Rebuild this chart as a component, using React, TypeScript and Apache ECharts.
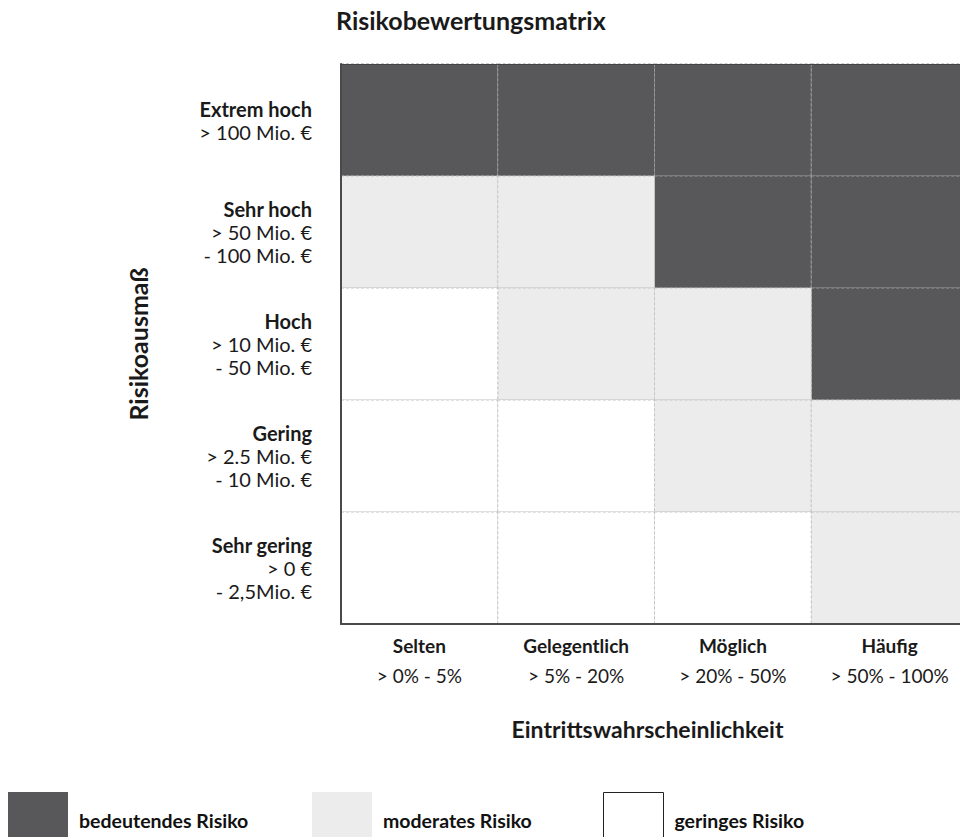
import React, { useEffect, useRef } from "react";
import * as echarts from "echarts";

const chartTitle = "Risikobewertungsmatrix";
const xAxisTitle = "Eintrittswahrscheinlichkeit";
const yAxisTitle = "Risikoausmaß";

const probCategories = ["Selten", "Gelegentlich", "Möglich", "Häufig"];
const probRanges = ["> 0% - 5%", "> 5% - 20%", "> 20% - 50%", "> 50% - 100%"];

// top to bottom
const impactCategories = ["Extrem hoch", "Sehr hoch", "Hoch", "Gering", "Sehr gering"];
const impactRanges = [
  ["> 100 Mio. €"],
  ["> 50 Mio. €", "- 100 Mio. €"],
  ["> 10 Mio. €", "- 50 Mio. €"],
  ["> 2.5 Mio. €", "- 10 Mio. €"],
  ["> 0 €", "- 2,5Mio. €"],
];

// rows top to bottom, columns left to right; 3 = bedeutend, 2 = moderat, 1 = gering
const riskMatrix = [
  [3, 3, 3, 3],
  [2, 2, 3, 3],
  [1, 2, 2, 3],
  [1, 1, 2, 2],
  [1, 1, 1, 2],
];

const riskLevelNames = ["bedeutendes Risiko", "moderates Risiko", "geringes Risiko"];
const riskLevelValues = [3, 2, 1];
const riskLevelColors = ["#58585a", "#ebeceb", "#ffffff"];

const FONT = "Lato, 'Open Sans', sans-serif";

// page offset of the chart container (browser default body margin)
const OFF = 8;

export default function App() {
  const ref = useRef<HTMLDivElement>(null);

  useEffect(() => {
    if (!ref.current) return;
    const chart = echarts.init(ref.current, undefined, { renderer: "svg" });

    const series = riskLevelValues.map((lvl, i) => {
      const data: number[][] = [];
      riskMatrix.forEach((row, r) =>
        row.forEach((v, c) => {
          if (v === lvl) data.push([c, r, v]);
        })
      );
      const stroke = i === 0 ? "#9a9a9a" : "#c4c4c4";
      return {
        type: "custom",
        name: riskLevelNames[i],
        data,
        encode: { x: 0, y: 1 },
        itemStyle: { color: riskLevelColors[i] },
        silent: true,
        z: 2,
        renderItem: (params: any, api: any) => {
          const p = api.coord([api.value(0), api.value(1)]);
          const s = api.size([1, 1]);
          return {
            type: "rect",
            shape: { x: p[0] - s[0] / 2, y: p[1] - s[1] / 2, width: s[0], height: s[1] },
            style: { fill: riskLevelColors[i], stroke, lineWidth: 1, lineDash: [3, 2] },
          };
        },
      };
    });

    const legendLefts = [8, 312, 603];

    chart.setOption({
      animation: false,
      title: {
        text: chartTitle,
        left: 336 - OFF,
        top: 0,
        padding: 0,
        textStyle: { fontFamily: FONT, fontSize: 25, lineHeight: 24, fontWeight: "bold", color: "#1a1a1a" },
      },
      tooltip: { show: false },
      grid: { left: 341 - OFF, top: 64 - OFF, width: 630, height: 560, containLabel: false },
      legend: riskLevelNames.map((name, i) => ({
        left: legendLefts[i] - OFF,
        top: 792 - OFF,
        padding: 0,
        orient: "horizontal",
        icon: "rect",
        itemWidth: 60,
        itemHeight: 46,
        selectedMode: false,
        formatter: "{a|{name}}",
        data: [
          {
            name,
            itemStyle:
              i === 2
                ? { color: "#ffffff", borderColor: "#222", borderWidth: 1, borderType: "solid" }
                : { color: riskLevelColors[i], borderWidth: 0 },
          },
        ],
        textStyle: {
          fontFamily: FONT,
          fontSize: 19.5,
          fontWeight: "bold",
          color: "#111",
          rich: {
            a: {
              fontFamily: FONT,
              fontSize: 19.5,
              fontWeight: "bold",
              color: "#111",
              padding: [10, 0, 0, 6],
            },
          },
        },
      })),
      xAxis: [
        {
          type: "category",
          data: probCategories,
          position: "bottom",
          z: 5,
          axisLine: { show: true, lineStyle: { color: "#4a4a4a", width: 2 } },
          axisTick: { show: false },
          splitLine: { show: false },
          axisLabel: {
            margin: 6,
            formatter: (v: string, idx: number) => `{b|${v}}\n{r|${probRanges[idx]}}`,
            rich: {
              b: { fontFamily: FONT, fontSize: 19, fontWeight: "bold", lineHeight: 30, color: "#1a1a1a" },
              r: { fontFamily: FONT, fontSize: 19, lineHeight: 30, color: "#1a1a1a" },
            },
          },
          name: xAxisTitle,
          nameLocation: "middle",
          nameGap: 93,
          nameTextStyle: {
            fontFamily: FONT,
            fontSize: 23,
            fontWeight: "bold",
            color: "#1a1a1a",
            padding: [0, 14, 0, 0],
          },
        },
        {
          type: "category",
          data: probCategories,
          position: "top",
          z: 5,
          axisLine: { show: true, lineStyle: { color: "#444", width: 1 } },
          axisTick: { show: false },
          axisLabel: { show: false },
          splitLine: { show: false },
        },
      ],
      yAxis: {
        type: "category",
        data: impactCategories,
        inverse: true,
        z: 5,
        axisLine: { show: true, lineStyle: { color: "#4a4a4a", width: 2 } },
        axisTick: { show: false },
        splitLine: { show: false },
        axisLabel: {
          margin: 29,
          align: "right",
          formatter: (v: string, idx: number) =>
            [`{b|${v}}`, ...impactRanges[idx].map((t) => `{r|${t}}`)].join("\n"),
          rich: {
            b: { fontFamily: FONT, fontSize: 20, fontWeight: "bold", lineHeight: 23, color: "#1a1a1a", align: "right" },
            r: { fontFamily: FONT, fontSize: 20, lineHeight: 23, color: "#1a1a1a", align: "right" },
          },
        },
        name: yAxisTitle,
        nameLocation: "middle",
        nameGap: 191,
        nameRotate: 90,
        nameTextStyle: { fontFamily: FONT, fontSize: 25, fontWeight: "bold", color: "#1a1a1a" },
      },
      series,
    });

    return () => chart.dispose();
  }, []);

  return <div ref={ref} style={{ width: 968 - OFF, height: 837 - OFF, overflow: "hidden" }} />;
}
